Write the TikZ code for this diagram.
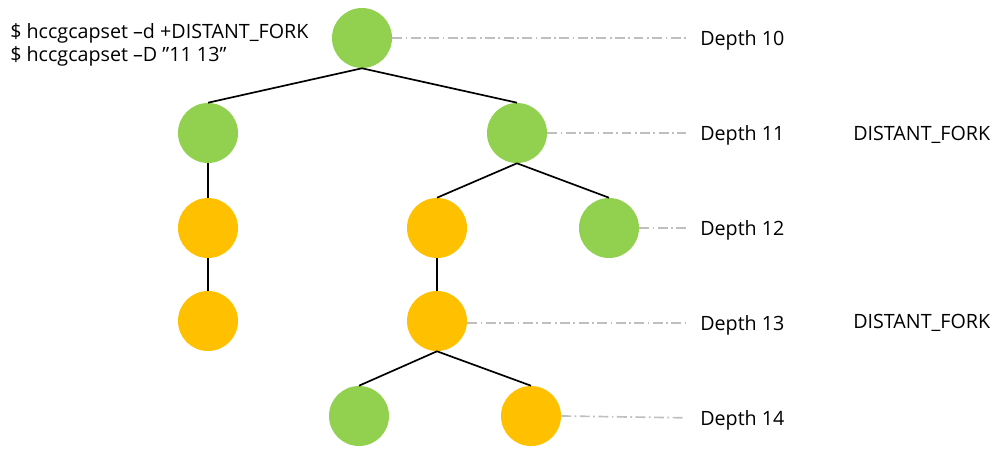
\documentclass[tikz,border=0pt]{standalone}
\usepackage{fontspec}
\setmainfont{Open Sans}
\usepackage{xcolor}
\usetikzlibrary{calc}
\definecolor{forkgreen}{HTML}{92D050}
\definecolor{forkorange}{HTML}{FFC000}
\definecolor{guidegray}{HTML}{BFBFBF}
\tikzset{
	commit/.style={circle,minimum size=1.5cm,inner sep=0pt},%
	keep/.style={commit,fill=forkgreen},%
	drop/.style={commit,fill=forkorange},%
	branch/.style={line width=1.2pt},%
	guide/.style={guidegray,line width=1.2pt,dash pattern=on 7pt off 2.5pt on 1.2pt off 2.5pt,shorten >=0.35cm},%
	depthlabel/.style={anchor=west,inner sep=0pt},%
	cmdtext/.style={anchor=north west,inner sep=0pt,align=left},%
}
\def\labelx{700}
\def\forkx{853}

\begin{document}
\begin{tikzpicture}[x=0.025cm,y=-0.025cm,font=\fontsize{14}{16.5}\selectfont]
		\useasboundingbox (0,0) rectangle (1008,460);
		% Tree {{{
		\node[keep] (n10) at (362,38) {};
		\node[keep] (n11a) at (208,133) {};
		\node[keep] (n11b) at (517,133) {};
		\node[drop] (n12a) at (208,228) {};
		\node[drop] (n12b) at (437,228) {};
		\node[keep] (n12c) at (609,228) {};
		\node[drop] (n13a) at (208,321) {};
		\node[drop] (n13b) at (437,321) {};
		\node[keep] (n14a) at (359,416) {};
		\node[drop] (n14b) at (531,416) {};
		\draw[branch] (n10.south) -- (n11a.north) (n10.south) -- (n11b.north);
		\draw[branch] (n11a) -- (n12a) -- (n13a);
		\draw[branch] (n11b.south) -- (n12b.north) (n11b.south) -- (n12c.north);
		\draw[branch] (n12b) -- (n13b);
		\draw[branch] (n13b.south) -- (n14a.north) (n13b.south) -- (n14b.north);
		% }}}
		% Depths {{{
		\node[depthlabel] (d10) at (\labelx,40) {Depth 10};
		\node[depthlabel] (d11) at (\labelx,135) {Depth 11};
		\node[depthlabel] (d12) at (\labelx,230) {Depth 12};
		\node[depthlabel] (d13) at (\labelx,325) {Depth 13};
		\node[depthlabel] (d14) at (\labelx,420) {Depth 14};
		\draw[guide] (n10.east) -- (d10.west |- n10.east);
		\draw[guide] (n11b.east) -- (d11.west |- n11b.east);
		\draw[guide] (n12c.east) -- (d12.west |- n12c.east);
		\draw[guide] ($(n13b.east)+(0,2)$) -- ($(d13.west)+(0,-2)$);
		\draw[guide] (n14b.east) -- ($(d14.west)+(0,-2)$);
		\node[depthlabel] (f11) at (\forkx,135) {DISTANT\_FORK};
		\node[depthlabel] (f13) at (\forkx,323) {DISTANT\_FORK};
		% }}}
		\node[cmdtext] (cmd) at (10,23) {\$ hccgcapset –d +DISTANT\_FORK\\\$ hccgcapset –D ”11 13”};
	\end{tikzpicture}
\end{document}
